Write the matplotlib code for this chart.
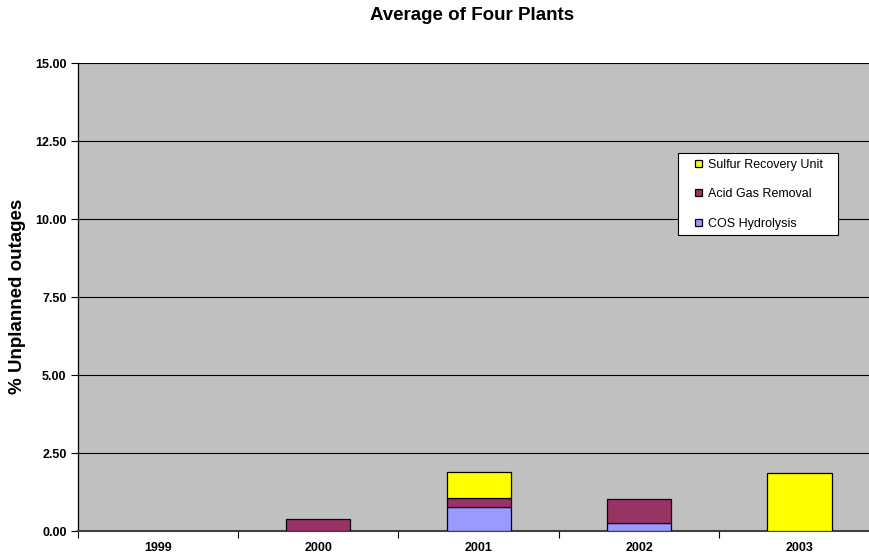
import matplotlib
matplotlib.use("Agg")
import matplotlib.pyplot as plt
from matplotlib.patches import Rectangle
from matplotlib.container import BarContainer
from matplotlib.legend_handler import HandlerPatch, update_from_first_child
import numpy as np

plt.rcParams['font.family'] = ['Liberation Sans', 'DejaVu Sans']

years = ["1999", "2000", "2001", "2002", "2003"]
cos_hydrolysis = [0.00, 0.00, 0.76, 0.25, 0.00]
acid_gas_removal = [0.00, 0.37, 0.30, 0.79, 0.00]
sulfur_recovery = [0.00, 0.00, 0.83, 0.00, 1.87]
y_ticks = [0.0, 2.5, 5.0, 7.5, 10.0, 12.5, 15.0]

fig = plt.figure(figsize=(8.7, 5.55), dpi=100)
ax = fig.add_axes([0.0893, 0.0432, 0.9218, 0.8432])
ax.set_facecolor('#C0C0C0')

x = np.arange(len(years))
w = 0.4
cos = np.array(cos_hydrolysis)
agr = np.array(acid_gas_removal)
sru = np.array(sulfur_recovery)

def draw(vals, bottom, color, label):
    mask = vals > 0
    return ax.bar(x[mask], vals[mask], w, bottom=bottom[mask], color=color,
                  edgecolor='black', linewidth=0.9, label=label, zorder=3)

zero = np.zeros(len(years))
draw(cos, zero, '#9999FF', 'COS Hydrolysis')
draw(agr, cos, '#993366', 'Acid Gas Removal')
draw(sru, cos + agr, '#FFFF00', 'Sulfur Recovery Unit')

ax.set_xlim(-0.5, len(years) - 0.5)
ax.set_ylim(0, 15)
ax.set_yticks(y_ticks)
ax.set_yticklabels([f"{v:.2f}" for v in y_ticks], fontsize=9, fontweight='bold')
ax.grid(axis='y', color='black', linewidth=0.8, zorder=1)

ax.set_xticks(x)
ax.set_xticklabels(years, fontsize=9, fontweight='bold')
ax.set_xticks(np.arange(len(years) + 1) - 0.5, minor=True)
ax.tick_params(axis='x', which='major', length=0, pad=8)
ax.tick_params(axis='x', which='minor', length=5, width=0.8, color='black')
ax.tick_params(axis='y', length=5, width=0.8, pad=3)

for s in ['top', 'right']:
    ax.spines[s].set_visible(False)
ax.spines['left'].set_linewidth(0.9)
ax.spines['bottom'].set_color('#404040')
ax.spines['bottom'].set_linewidth(1.5)

fig.text(17.5 / 870, 1 - 296 / 555, '% Unplanned outages', rotation=90,
         ha='center', va='center', fontsize=13.5, fontweight='bold')
fig.text(472 / 870, 1 - 15 / 555, 'Average of Four Plants', ha='center', va='center',
         fontsize=13.5, fontweight='bold')


# small square key placed at the right end of the handle area
def square_key(legend, orig_handle, xdescent, ydescent, width, height, fontsize):
    s = 5.2
    return Rectangle((-xdescent + width - s, -ydescent + (height - s) / 2), s, s)


handles, labels = ax.get_legend_handles_labels()
leg = ax.legend(handles[::-1], labels[::-1], loc='upper left', mode='expand',
                bbox_to_anchor=(678 / 870, 1 - 239 / 555, 160 / 870, 86 / 555),
                bbox_transform=fig.transFigure,
                handler_map={BarContainer: HandlerPatch(patch_func=square_key,
                                                        update_func=update_from_first_child)},
                fontsize=9, frameon=True, fancybox=False, framealpha=1,
                edgecolor='black', handlelength=1.5, handleheight=0.7,
                handletextpad=0.44, labelspacing=1.39, borderpad=0.46, borderaxespad=0)
leg.get_frame().set_linewidth(0.8)

fig.savefig('out.png', dpi=100)
